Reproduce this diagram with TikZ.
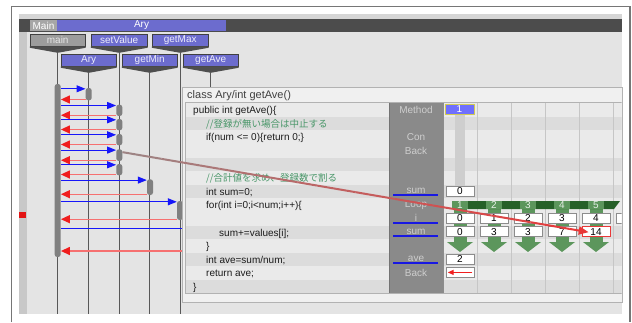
\documentclass[tikz,border=0pt]{standalone}
\usepackage{fontspec}
\setmainfont{Liberation Sans}
\newfontfamily\jpfont{Noto Sans CJK JP}
\usetikzlibrary{arrows.meta,calc}

\definecolor{framegray}{RGB}{118,118,118}
\definecolor{appbg}{RGB}{228,228,228}
\definecolor{topstrip}{RGB}{214,214,214}
\definecolor{stripgray}{RGB}{200,200,200}
\definecolor{bardark}{RGB}{76,76,76}
\definecolor{tabgray}{RGB}{166,166,166}
\definecolor{slate}{RGB}{108,108,206}
\definecolor{headgray}{RGB}{156,156,156}
\definecolor{funnelgray}{RGB}{78,78,78}
\definecolor{lifegray}{RGB}{88,88,88}
\definecolor{actgray}{RGB}{128,128,128}
\definecolor{callblue}{RGB}{22,22,250}
\definecolor{retline}{RGB}{246,112,112}
\definecolor{rethead}{RGB}{240,30,30}
\definecolor{panelbg}{RGB}{234,234,234}
\definecolor{paneltitle}{RGB}{240,240,240}
\definecolor{panelline}{RGB}{178,178,178}
\definecolor{rowdark}{RGB}{220,220,220}
\definecolor{codeink}{RGB}{28,28,28}
\definecolor{commentgreen}{RGB}{72,150,104}
\definecolor{methodgray}{RGB}{138,138,138}
\definecolor{methodink}{RGB}{206,206,206}
\definecolor{varblue}{RGB}{24,24,226}
\definecolor{colline}{RGB}{198,198,198}
\definecolor{trackgray}{RGB}{206,206,206}
\definecolor{boxedge}{RGB}{140,140,140}
\definecolor{loopdark}{RGB}{38,96,40}
\definecolor{loopgreen}{RGB}{92,150,92}
\definecolor{stepblue}{RGB}{112,112,252}
\definecolor{traceA}{RGB}{158,132,132}
\definecolor{traceB}{RGB}{232,56,56}
\definecolor{markred}{RGB}{226,20,20}

\begin{document}
\begin{tikzpicture}[x=1pt,y=-1pt,
  tabcell/.style={minimum height=11pt, inner sep=0pt, text=white, font=\fontsize{10}{12}\selectfont},
  lifehead/.style={draw=black!75, line width=0.6pt, fill=slate, text=white!88!slate,
    minimum height=12pt, inner sep=0pt, font=\fontsize{10}{12}\selectfont},
  lifeline/.style={lifegray, line width=1.1pt},
  actnode/.style={fill=actgray, rounded corners=2.5pt, minimum width=6pt, inner sep=0pt},
  callmsg/.style={callblue, line width=1pt, -{Triangle[length=9pt,width=7pt]}},
  retmsg/.style={retline, line width=1.3pt, -{Triangle[length=9pt,width=8pt,color=rethead]}},
  codetext/.style={anchor=base west, inner sep=0pt, text=codeink, font=\fontsize{10}{12}\selectfont},
  commenttext/.style={anchor=base west, inner sep=0pt, text=commentgreen, font=\jpfont\fontsize{9.5}{12}\selectfont},
  methodlabel/.style={text=methodink, inner sep=0pt, font=\fontsize{10}{12}\selectfont},
  valbox/.style={draw=boxedge, fill=white, line width=0.6pt, minimum width=28pt,
    minimum height=10pt, inner sep=0pt, font=\fontsize{10}{10}\selectfont},
  looptab/.style={fill=loopgreen, text=white!85!loopgreen, minimum width=16pt,
    minimum height=8pt, inner sep=0pt, font=\fontsize{10}{10}\selectfont},
]
\useasboundingbox (0,0) rectangle (632,322);
\fill[white] (0,0) rectangle (632,322);

% application window
\fill[appbg] (19,14) rectangle (622,314);
\fill[topstrip] (19,14) rectangle (622,19);
\fill[stripgray] (19,32) rectangle (27,314);
\fill[bardark] (19,19) rectangle (622,32);
\node[tabcell, fill=tabgray, minimum width=27pt] (tabMain) at (43.5,25.5) {Main};
\node[tabcell, fill=slate, minimum width=169pt] (tabAry) at (141.5,25.5) {Ary};
\fill[markred] (19,212) rectangle (26,218);
\draw[framegray, line width=1.6pt] (11.5,322) -- (11.5,6.5) -- (630,6.5) -- (630,322);

% lifeline heads
\node[lifehead, fill=headgray, text=white!90!black, minimum width=55pt] (hmain) at (57.7,40) {main};
\node[lifehead, minimum width=56pt] (hsetValue) at (119.2,40) {setValue};
\node[lifehead, minimum width=56pt] (hgetMax) at (180.2,40) {getMax};
\node[lifehead, minimum width=55pt] (hAry) at (88.7,60) {Ary};
\node[lifehead, minimum width=55pt] (hgetMin) at (149.7,60) {getMin};
\node[lifehead, minimum width=55pt] (hgetAve) at (210.7,60) {getAve};

\coordinate (floor) at (0,314);
\coordinate (paneltop) at (0,88);
\foreach \h in {hmain,hsetValue,hgetMax,hAry,hgetMin,hgetAve}{
  \fill[funnelgray] (\h.south west) -- (\h.south east) -- ($(\h.south east)+(0,1.5)$)
    -- ($(\h.south)+(0,6.5)$) -- ($(\h.south west)+(0,1.5)$) -- cycle;
}
\foreach \h in {hmain,hsetValue,hgetMax,hAry,hgetMin}
  \draw[lifeline] ($(\h.south)+(0,6)$) -- (\h.south |- floor);
\draw[lifeline] ($(hgetAve.south)+(0,6)$) -- (hgetAve.south |- paneltop);

% activations
\node[actnode, minimum height=173pt] (mainbar) at (57.7,170.5) {};
\node[actnode, minimum height=12.3pt] (actA) at (88.7,94.15) {};
\node[actnode, minimum height=11.3pt] (actS1) at (119.3,110.35) {};
\node[actnode, minimum height=11.3pt] (actS2) at (119.3,124.65) {};
\node[actnode, minimum height=11.3pt] (actS3) at (119.3,139.65) {};
\node[actnode, minimum height=11.7pt] (actS4) at (119.3,155.15) {};
\node[actnode, minimum height=11.3pt] (actS5) at (119.3,169.65) {};
\node[actnode, minimum height=15.7pt] (actMin) at (150,187.15) {};
\node[actnode, minimum height=19pt] (actMax) at (180,210.5) {};

% calls and returns
\foreach \a in {actA,actS1,actS2,actS3,actS4,actS5,actMin,actMax}{
  \draw[callmsg] ($(mainbar.east |- \a.north)+(0,1)$) -- ($(\a.north west)+(0,1)$);
  \draw[retmsg] ($(\a.south west)+(0,-1)$) -- ($(mainbar.east |- \a.south)+(0,-1)$);
}
\coordinate (aveIn) at (210.7,228);
\coordinate (aveOut) at (210.7,251);
\draw[callmsg] (mainbar.east |- aveIn) -- (aveIn);
\draw[retmsg] (aveOut) -- (mainbar.east |- aveOut);

% method panel
\node[draw=panelline, fill=paneltitle, line width=0.8pt, anchor=north west,
  minimum width=440pt, minimum height=215pt, inner sep=0pt] (panel) at (182,87) {};
\node[anchor=base west, inner sep=0pt, text=black!75, font=\fontsize{11}{13}\selectfont]
  (ptitle) at (187,98.5) {class Ary/int getAve()};
\begin{scope}
\clip (182,87) rectangle (621.6,302);
\fill[panelbg] (185,102.5) rectangle (622,293.3);
\foreach \r in {2,5,7,10,12,14}{
  \pgfmathsetmacro\rt{103.2+(\r-1)*13.6}
  \fill[rowdark] (185,\rt) rectangle (622,\rt+13.6);
}
\draw[panelline, line width=0.8pt] (185,102.5) -- (622,102.5);
\draw[panelline, line width=0.8pt] (185,102.5) -- (185,293.3) -- (622,293.3);
\fill[methodgray] (389,102.5) rectangle (443,293.3);
\draw[black!55, line width=0.7pt] (389,102.5) -- (389,293.3);
\draw[black!45, line width=0.7pt] (443,102.5) -- (443,293.3);
\foreach \cx in {477,511,545,579,613}
  \draw[colline, line width=1pt] (\cx,102.5) -- (\cx,293.3);
\fill[trackgray] (455,115) rectangle (465,187);

% loop iterations
\foreach \cx in {460,494,528,562,596}{
  \fill[loopgreen] (\cx-6.5,208) rectangle (\cx+6.5,242);
  \fill[loopgreen] (\cx-13,242) -- (\cx+13,242) -- (\cx,252) -- cycle;
}
\fill[loopdark] (452,201) -- (620,201) -- (614,209) -- (452,209) -- cycle;
\foreach \k/\cx in {1/460,2/494,3/528,4/562,5/596}
  \node[looptab] (tab\k) at (\cx,205) {\k};

% trace values
\node[draw=yellow!60!gray, fill=stepblue, line width=0.6pt, minimum width=29pt, minimum height=10pt,
  inner sep=0pt, text=white, font=\fontsize{10}{10}\selectfont] (stepno) at (459.5,109) {1};
\node[valbox] (sumInit) at (460,190.8) {0};
\foreach \k/\cx/\v in {1/460/0,2/494/1,3/528/2,4/562/3,5/596/4}
  \node[valbox] (r9c\k) at (\cx,218) {\v};
\node[valbox] (r9c6) at (630,218) {};
\foreach \k/\cx/\v in {1/460/0,2/494/3,3/528/3,4/562/7}
  \node[valbox] (r10c\k) at (\cx,231.6) {\v};
\node[valbox, draw=traceB] (r10c5) at (596,231.6) {14};
\node[valbox] (aveVal) at (460,258.8) {2};
\node[valbox] (backBox) at (460,272.4) {};
\draw[rethead, line width=1.2pt, -{Triangle[length=6pt,width=5pt]}]
  ($(backBox.east)+(-2,0)$) -- ($(backBox.west)+(2,0)$);
\end{scope}

% method column labels
\node[methodlabel] (mMethod) at (416,110) {Method};
\node[methodlabel] (mCon) at (416,137.2) {Con};
\node[methodlabel] (mBack1) at (416,150.8) {Back};
\node[methodlabel] (mSum1) at (416,191.2) {sum};
\node[methodlabel] (mLoop) at (416,204.6) {Loop};
\node[methodlabel] (mI) at (416,217.4) {i};
\node[methodlabel] (mSum2) at (416,231.8) {sum};
\node[methodlabel] (mAve) at (416,258.4) {ave};
\node[methodlabel] (mBack2) at (416,273) {Back};
\foreach \yy in {195,222.5,236,263}
  \fill[varblue] (393,\yy-1) rectangle (438,\yy+1);

% source lines
\node[codetext] (c1) at (193,113.6) {public int getAve()\{};
\node[commenttext] (c2) at (206,127) {//登録が無い場合は中止する};
\node[codetext] (c3) at (206,140.8) {if(num <= 0)\{return 0;\}};
\node[commenttext] (c6) at (206,181.4) {//合計値を求め、登録数で割る};
\node[codetext] (c7) at (206,195.2) {int sum=0;};
\node[codetext] (c8) at (206,208.8) {for(int i=0;i<num;i++)\{};
\node[codetext] (c10) at (219,236) {sum+=values[i];};
\node[codetext] (c11) at (206,249.6) {\}};
\node[codetext] (c12) at (206,263.2) {int ave=sum/num;};
\node[codetext] (c13) at (206,276.8) {return ave;};
\node[codetext] (c14) at (193,290.4) {\}};

% trace from the setValue call to the summed value
\coordinate (trS) at ($(actS4.east)+(0,-3)$);
\coordinate (trE) at ($(r10c5.west)+(7,0.6)$);
\foreach \k in {0,...,22}{
  \pgfmathsetmacro\ta{\k/24}
  \pgfmathsetmacro\tb{(\k+1)/24}
  \pgfmathsetmacro\mixp{int(100*\k/23)}
  \draw[traceB!\mixp!traceA, line width=2pt] ($(trS)!\ta!(trE)$) -- ($(trS)!\tb!(trE)$);
}
\draw[traceB, line width=2pt, -{Triangle[length=10pt,width=8pt]}]
  ($(trS)!0.9583!(trE)$) -- (trE);
\end{tikzpicture}
\end{document}
